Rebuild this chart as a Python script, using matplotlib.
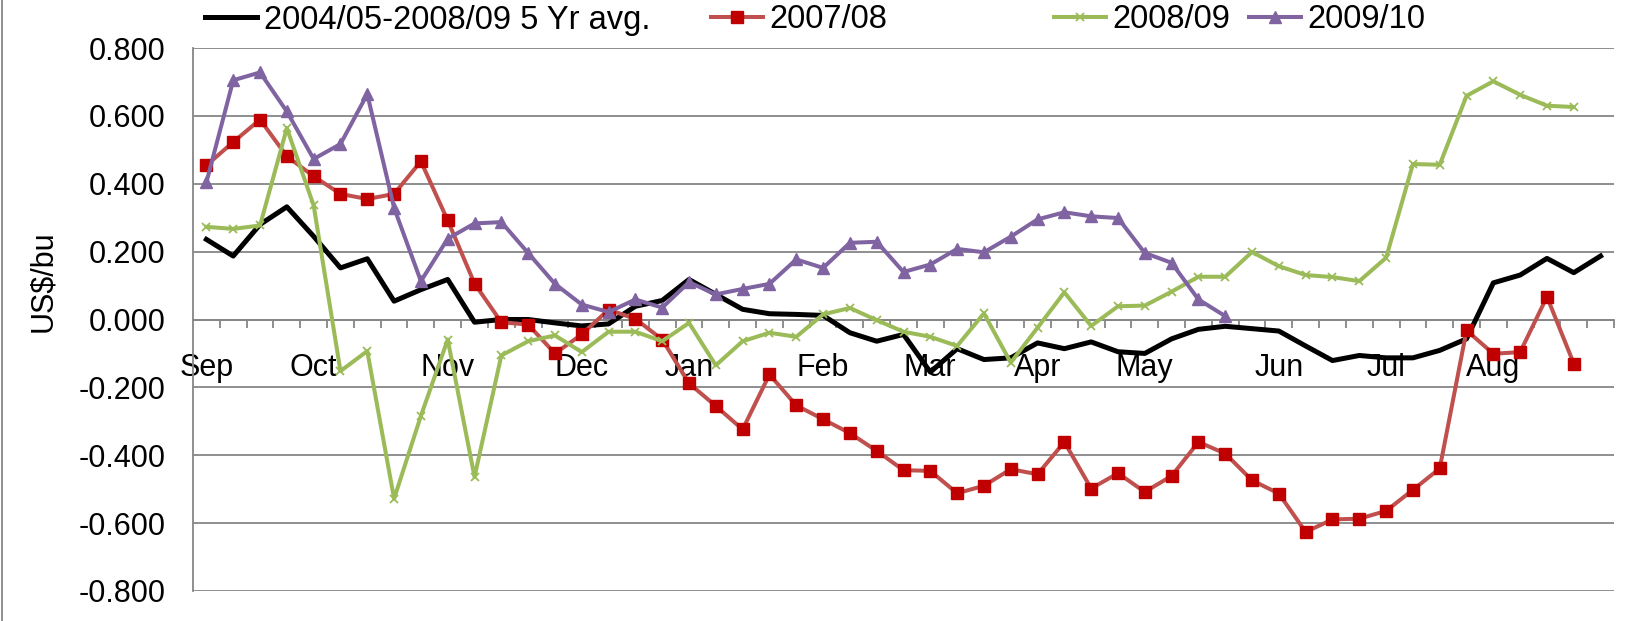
import matplotlib
matplotlib.use("Agg")
from matplotlib import pyplot as plt
from matplotlib.lines import Line2D
import numpy as np

plt.rcParams['font.family'] = ['Liberation Sans', 'DejaVu Sans']

# weekly basis, Sep .. Aug (53 weeks)
months = ['Sep', 'Oct', 'Nov', 'Dec', 'Jan', 'Feb', 'Mar', 'Apr', 'May', 'Jun', 'Jul', 'Aug']
month_week = [0, 4, 9, 14, 18, 23, 27, 31, 35, 40, 44, 48]

avg5 = [0.236, 0.187, 0.280, 0.332, 0.245, 0.152, 0.179, 0.054, 0.088, 0.118,
        -0.008, 0.000, 0.000, -0.010, -0.019, -0.013, 0.039, 0.056, 0.118, 0.074,
        0.030, 0.017, 0.015, 0.012, -0.039, -0.064, -0.044, -0.155, -0.086, -0.118,
        -0.113, -0.069, -0.086, -0.066, -0.095, -0.100, -0.057, -0.029, -0.020, -0.027,
        -0.034, -0.078, -0.121, -0.106, -0.113, -0.113, -0.091, -0.057, 0.108, 0.131,
        0.180, 0.138, 0.187]
y0708 = [0.454, 0.523, 0.589, 0.481, 0.422, 0.370, 0.355, 0.370, 0.466, 0.292,
         0.106, -0.008, -0.015, -0.100, -0.044, 0.029, 0.002, -0.059, -0.188, -0.255,
         -0.324, -0.162, -0.253, -0.294, -0.335, -0.387, -0.444, -0.446, -0.512, -0.490,
         -0.441, -0.456, -0.361, -0.498, -0.453, -0.508, -0.461, -0.361, -0.395, -0.474,
         -0.513, -0.626, -0.589, -0.587, -0.564, -0.502, -0.439, -0.032, -0.101, -0.096,
         0.067, -0.130]
y0809 = [0.273, 0.267, 0.277, 0.564, 0.336, -0.152, -0.093, -0.528, -0.284, -0.059,
         -0.464, -0.106, -0.064, -0.047, -0.096, -0.036, -0.036, -0.064, -0.010, -0.135,
         -0.064, -0.039, -0.051, 0.015, 0.034, -0.002, -0.036, -0.051, -0.078, 0.018,
         -0.127, -0.024, 0.080, -0.019, 0.039, 0.041, 0.082, 0.126, 0.126, 0.199,
         0.157, 0.131, 0.125, 0.113, 0.182, 0.458, 0.456, 0.659, 0.702, 0.662,
         0.630, 0.626]
y0910 = [0.404, 0.705, 0.728, 0.613, 0.473, 0.517, 0.664, 0.329, 0.113, 0.238,
         0.283, 0.287, 0.196, 0.105, 0.044, 0.022, 0.059, 0.035, 0.110, 0.074,
         0.090, 0.105, 0.177, 0.152, 0.226, 0.229, 0.140, 0.162, 0.208, 0.198,
         0.244, 0.295, 0.316, 0.304, 0.299, 0.196, 0.167, 0.059, 0.010]

n_weeks = 53
yticks = [-0.8, -0.6, -0.4, -0.2, 0.0, 0.2, 0.4, 0.6, 0.8]
series_names = ['2004/05-2008/09 5 Yr avg.', '2007/08', '2008/09', '2009/10']

fig = plt.figure(figsize=(16.39, 6.21), dpi=100)
ax = fig.add_axes([193 / 1639, 1 - 591 / 621, 1421 / 1639, 543 / 621])

l1, = ax.plot(np.arange(len(avg5)), avg5, color='black', lw=3.6, zorder=3)
l2, = ax.plot(np.arange(len(y0708)), y0708, color='#C0504D', lw=2.9,
              marker='s', ms=8.5, mfc='#C00000', mec='#C00000', zorder=4)
l3, = ax.plot(np.arange(len(y0809)), y0809, color='#9BBB59', lw=2.9,
              marker='x', ms=6, mew=1.3, zorder=4)
l4, = ax.plot(np.arange(len(y0910)), y0910, color='#8064A2', lw=2.9,
              marker='^', ms=8.5, zorder=5)

ax.set_xlim(-0.5, n_weeks - 0.5)
ax.set_ylim(-0.8, 0.8)
ax.set_yticks(yticks)
ax.set_yticklabels(['%.3f' % v for v in yticks])
ax.yaxis.grid(True, color='#868686', lw=1.3)
ax.set_axisbelow(True)
ax.tick_params(axis='y', length=0, pad=20, labelsize=22)

# category axis sits on zero, marks between weeks
ax.spines['bottom'].set_position(('data', 0))
ax.spines['bottom'].set_color('#868686')
ax.spines['bottom'].set_linewidth(1.3)
ax.spines['left'].set_color('#868686')
ax.spines['left'].set_linewidth(1.3)
ax.spines['right'].set_visible(False)
ax.spines['top'].set_visible(False)
ax.set_xticks(month_week)
ax.set_xticklabels(months)
ax.set_xticks(np.arange(0.5, n_weeks, 1.0), minor=True)
ax.tick_params(axis='x', which='major', length=0, pad=24, labelsize=22)
ax.tick_params(axis='x', which='minor', length=6, width=1.3, color='#868686', direction='out')

ax.set_ylabel(r'US\$/bu', fontsize=22)
ax.yaxis.set_label_coords(-0.095, 0.57)

# excel-style legend: fixed slots across the top
slots = [205, 711, 1054, 1249]
for h, name, x in zip([l1, l2, l3, l4], series_names, slots):
    leg = fig.legend([h], [name], loc='center left',
                     bbox_to_anchor=(x / 1639, 1 - 20 / 621),
                     frameon=False, fontsize=23.5, handlelength=1.6,
                     handletextpad=0.2, borderpad=0, borderaxespad=0)

fig.add_artist(Line2D([0.0015, 0.0015], [0, 1], color='#868686', lw=1.3))

plt.savefig('out.png', dpi=100)
